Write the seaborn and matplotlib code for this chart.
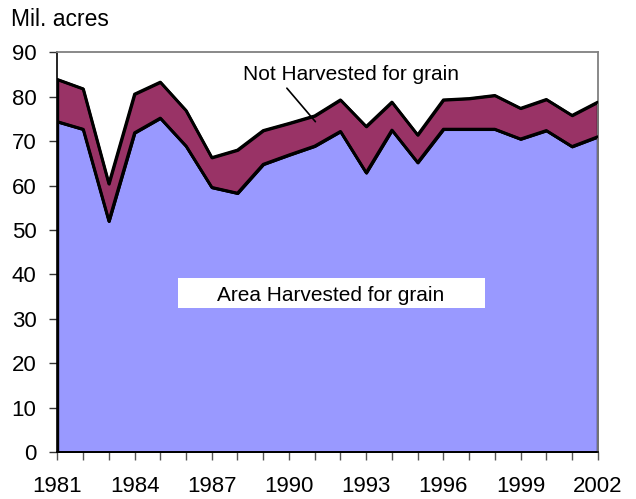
import matplotlib
matplotlib.use("Agg")
import matplotlib.pyplot as plt
from matplotlib.patches import Rectangle
import seaborn as sns
import pandas as pd

years = list(range(1981, 2003))
harvested = [74.4, 72.7, 52.0, 71.9, 75.2, 68.9, 59.6, 58.3, 64.8, 66.9, 68.9,
             72.2, 62.9, 72.5, 65.2, 72.7, 72.7, 72.7, 70.5, 72.4, 68.8, 71.0]
total_planted = [83.9, 81.8, 60.4, 80.6, 83.3, 76.9, 66.3, 68.0, 72.4, 74.0, 75.7,
                 79.3, 73.3, 78.8, 71.4, 79.3, 79.6, 80.3, 77.4, 79.4, 75.8, 78.8]
tick_years = [1981, 1984, 1987, 1990, 1993, 1996, 1999, 2002]
y_ticks = [0, 10, 20, 30, 40, 50, 60, 70, 80, 90]

df = pd.DataFrame({"year": years, "harvested": harvested, "total": total_planted})

sns.set_theme(style="white")
plt.rcParams["font.family"] = ["Liberation Sans", "DejaVu Sans"]

fig = plt.figure(figsize=(6.36, 4.99), dpi=100)
ax = fig.add_axes([0.0901, 0.0942, 0.8497, 0.8010])

edge_lw = 2.0
ax.fill_between(df["year"], 0, df["harvested"], facecolor="#9999FF",
                edgecolor="black", linewidth=edge_lw, zorder=2)
ax.fill_between(df["year"], df["harvested"], df["total"], facecolor="#993366",
                edgecolor="black", linewidth=edge_lw, zorder=2)
sns.lineplot(data=df, x="year", y="harvested", color="black", lw=edge_lw, ax=ax, zorder=3)
sns.lineplot(data=df, x="year", y="total", color="black", lw=edge_lw, ax=ax, zorder=3)

ax.set_xlim(1981, 2002)
ax.set_ylim(0, 90)
ax.set_xlabel("")
ax.set_ylabel("")

ax.set_yticks(y_ticks)
ax.set_yticklabels([str(v) for v in y_ticks])
ax.set_xticks(years)
ax.set_xticklabels([str(y) if y in tick_years else "" for y in years])

ax.tick_params(axis="y", which="major", direction="out", length=6, width=1.0,
               color="#333333", left=True, pad=9, labelsize=16, labelcolor="black")
ax.tick_params(axis="x", which="major", direction="out", length=6, width=1.0,
               color="#555555", bottom=True, pad=11, labelsize=16, labelcolor="black")

for side in ["left", "bottom"]:
    ax.spines[side].set_color("black")
    ax.spines[side].set_linewidth(1.2)
for side in ["top", "right"]:
    ax.spines[side].set_color("#808080")
    ax.spines[side].set_linewidth(1.3)
    ax.spines[side].set_visible(True)

# label box for harvested area
ax.add_patch(Rectangle((1985.68, 32.5), 1997.62 - 1985.68, 39.26 - 32.5,
                       facecolor="white", edgecolor="none", zorder=4))
ax.text(1991.64, 34.1, "Area Harvested for grain", ha="center", va="baseline",
        fontsize=15, color="black", zorder=5)

ax.text(1988.22, 83.8, "Not Harvested for grain", ha="left", va="baseline",
        fontsize=15, color="black", zorder=5)
ax.annotate("", xy=(1991.1, 73.9), xytext=(1989.85, 82.4),
            arrowprops=dict(arrowstyle="-", color="black", lw=1.2), zorder=5)

fig.text(0.0173, 0.9485, "Mil. acres", ha="left", va="baseline", fontsize=16.5, color="black")

fig.savefig("out.png", dpi=100)
